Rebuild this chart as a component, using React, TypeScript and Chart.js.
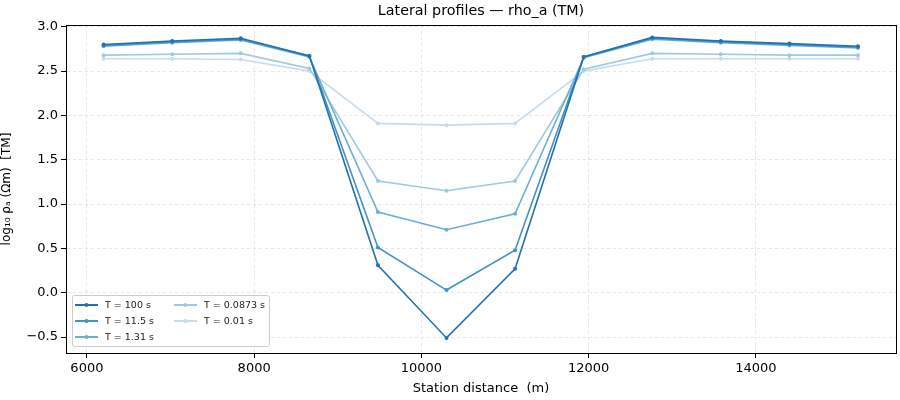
import React, { useEffect, useRef } from "react";
import { Chart, registerables } from "chart.js";

Chart.register(...registerables);

const stations = [6200, 7020, 7840, 8660, 9480, 10300, 11120, 11940, 12760, 13580, 14400, 15220];
const periodLabels = ["T = 100 s", "T = 11.5 s", "T = 1.31 s", "T = 0.0873 s", "T = 0.01 s"];
const rho100 = [2.80, 2.84, 2.87, 2.67, 0.31, -0.51, 0.27, 2.66, 2.88, 2.84, 2.81, 2.78];
const rho11 = [2.79, 2.83, 2.86, 2.67, 0.51, 0.03, 0.48, 2.66, 2.87, 2.83, 2.80, 2.77];
const rho1 = [2.78, 2.82, 2.85, 2.66, 0.91, 0.71, 0.89, 2.65, 2.86, 2.82, 2.79, 2.76];
const rho0087 = [2.68, 2.69, 2.70, 2.53, 1.26, 1.15, 1.26, 2.52, 2.70, 2.69, 2.68, 2.68];
const rho001 = [2.64, 2.64, 2.63, 2.50, 1.91, 1.89, 1.91, 2.50, 2.64, 2.64, 2.64, 2.64];
const xTicks = [6000, 8000, 10000, 12000, 14000];
const yTicks = [-0.5, 0, 0.5, 1.0, 1.5, 2.0, 2.5, 3.0];
const colors = ["#2171b5", "#4292c6", "#6baed6", "#9ecae1", "#c6dbef"];

const FONT = "'DejaVu Sans', sans-serif";

const framePlugin = {
  id: "frame",
  afterDraw(chart: any) {
    const { ctx, chartArea: a } = chart;
    ctx.save();
    // box
    ctx.strokeStyle = "#000";
    ctx.lineWidth = 1;
    ctx.strokeRect(Math.round(a.left) + 0.5, Math.round(a.top) + 0.5, Math.round(a.right - a.left), Math.round(a.bottom - a.top));
    // title
    ctx.fillStyle = "#000";
    ctx.font = `14.3px ${FONT}`;
    ctx.textAlign = "center";
    ctx.textBaseline = "middle";
    ctx.fillText("Lateral profiles — rho_a (TM)", (a.left + a.right) / 2, a.top - 14);
    // legend
    const lx = a.left + 6, ly = a.bottom - 58;
    const lw = 197, lh = 51;
    ctx.fillStyle = "rgba(255,255,255,0.85)";
    ctx.strokeStyle = "#cccccc";
    ctx.lineWidth = 1;
    ctx.beginPath();
    ctx.roundRect(lx + 0.5, ly + 0.5, lw, lh, 2);
    ctx.fill();
    ctx.stroke();
    ctx.font = `9.5px ${FONT}`;
    ctx.textAlign = "left";
    ctx.textBaseline = "middle";
    periodLabels.forEach((lab, i) => {
      const col = i < 3 ? 0 : 1;
      const row = i < 3 ? i : i - 3;
      const x0 = lx + 3 + col * 99;
      const y0 = ly + 10 + row * 16;
      ctx.strokeStyle = colors[i];
      ctx.lineWidth = 2;
      ctx.beginPath();
      ctx.moveTo(x0, y0);
      ctx.lineTo(x0 + 23, y0);
      ctx.stroke();
      ctx.fillStyle = colors[i];
      ctx.beginPath();
      ctx.arc(x0 + 11.5, y0, 2, 0, Math.PI * 2);
      ctx.fill();
      ctx.fillStyle = "#222";
      ctx.fillText(lab, x0 + 30, y0 + 0.5);
    });
    ctx.restore();
  },
};

export default function App() {
  const ref = useRef<HTMLCanvasElement>(null);
  useEffect(() => {
    const series = [rho100, rho11, rho1, rho0087, rho001];
    const gridOpts = { color: "#e6e6e6", tickLength: 5, tickColor: "#000", tickBorderDash: [], tickWidth: 1 } as any;
    const chart = new Chart(ref.current!, {
      type: "line",
      data: {
        datasets: series.map((s, i) => ({
          label: periodLabels[i],
          data: stations.map((x, j) => ({ x, y: s[j] })),
          borderColor: colors[i],
          backgroundColor: colors[i],
          borderWidth: 1.6,
          pointRadius: 2,
          pointHoverRadius: 2,
          pointBorderWidth: 0,
          tension: 0,
          fill: false,
        })),
      },
      options: {
        animation: false,
        responsive: false,
        layout: { padding: { top: 25, right: 4, left: 0, bottom: 0 } },
        plugins: { legend: { display: false }, title: { display: false }, tooltip: { enabled: false } },
        scales: {
          x: {
            type: "linear",
            min: 5750,
            max: 15675,
            afterBuildTicks: (s: any) => { s.ticks = xTicks.map((v) => ({ value: v })); },
            afterFit: (s: any) => { s.height = 47; },
            grid: gridOpts,
            border: { color: "#000", dash: [3, 3] } as any,
            ticks: { color: "#000", font: { family: FONT, size: 13 }, padding: 3, maxRotation: 0, callback: (v: any) => String(v) },
            title: { display: true, text: "Station distance  (m)", color: "#000", font: { family: FONT, size: 13 }, padding: { top: 2, bottom: 4 } },
          },
          y: {
            type: "linear",
            min: -0.68,
            max: 3.02,
            afterBuildTicks: (s: any) => { s.ticks = yTicks.map((v) => ({ value: v })); },
            afterFit: (s: any) => { s.width = 66; },
            grid: gridOpts,
            border: { color: "#000", dash: [3, 3] } as any,
            ticks: {
              color: "#000",
              font: { family: FONT, size: 13 },
              padding: 3,
              callback: (v: any) => (v < 0 ? "\u2212" + Math.abs(v).toFixed(1) : Number(v).toFixed(1)),
            },
            title: { display: true, text: "log\u2081\u2080 \u03c1\u2090 (\u03a9m)  [TM]", color: "#000", font: { family: FONT, size: 12 }, padding: { top: 0, bottom: 0 } },
          },
        },
      },
      plugins: [framePlugin],
    });
    return () => chart.destroy();
  }, []);
  return (
    <div style={{ position: "fixed", left: 0, top: 0, width: 900, height: 400, background: "#fff" }}>
      <canvas ref={ref} width={900} height={400} style={{ width: 900, height: 400 }} />
    </div>
  );
}
